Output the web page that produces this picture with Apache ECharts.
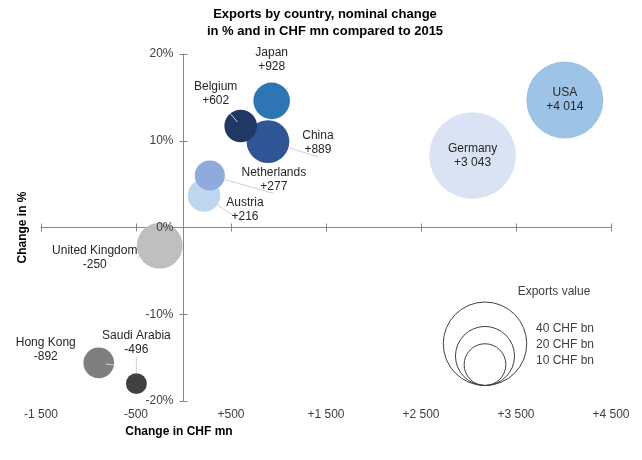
<!DOCTYPE html>
<html>
<head>
<meta charset="utf-8">
<script src="https://cdn.jsdelivr.net/npm/echarts@6/dist/echarts.min.js"></script>
<style>
html, body { margin: 0; padding: 0; background: #fff; }
#chart { width: 642px; height: 460px; }
</style>
</head>
<body>
<div id="chart"></div>
<script>
// data (drawing order: later items on top)
var countries  = ['USA', 'Germany', 'Japan', 'China', 'Belgium', 'Austria', 'Netherlands', 'United Kingdom', 'Hong Kong', 'Saudi Arabia'];
var changeChf  = [4014, 3043, 928, 889, 602, 216, 277, -250, -892, -496];
var changePct  = [14.7, 8.3, 14.6, 9.9, 11.7, 3.7, 6.0, -2.1, -15.6, -18.0];
var exportsBn  = [34.0, 43.1, 7.7, 10.5, 6.1, 6.1, 5.2, 12.1, 5.4, 2.5];
var legendBn   = [40, 20, 10];

// styles
var bubbleColors = {
    'USA': '#9dc3e6', 'Germany': '#dae3f3', 'Japan': '#2e75b6', 'China': '#2f5597',
    'Belgium': '#1f3864', 'Austria': '#bdd7ee', 'Netherlands': '#8faadc',
    'United Kingdom': '#bfbfbf', 'Hong Kong': '#7f7f7f', 'Saudi Arabia': '#404040'
};
// label offset from bubble centre, px
var labelOffsets = {
    'USA': [0, 0], 'Germany': [0, 0], 'Japan': [0, -41], 'China': [50, 1],
    'Belgium': [-25, -32], 'Austria': [41, 14], 'Netherlands': [64, 4],
    'United Kingdom': [-65, 12], 'Hong Kong': [-53, -13], 'Saudi Arabia': [0, -41]
};

var SIZE_K = 13.2; // diameter px per sqrt(CHF bn)
function bubbleSize(v) { return SIZE_K * Math.sqrt(v); }

function signed(v) {
    var s = Math.abs(v).toString().replace(/\B(?=(\d{3})+(?!\d))/g, ' ');
    return (v > 0 ? '+' : (v < 0 ? '-' : '')) + s;
}

var axisColor = '#868686';
var textColor = '#404040';
var font = 'Liberation Sans, Arial, sans-serif';

var gridLeft = 41, gridRight = 31;
var plotWidth = 642 - gridLeft - gridRight;

var chart = echarts.init(document.getElementById('chart'));

var seriesData = countries.map(function (c, i) {
    var inside = labelOffsets[c][0] === 0 && labelOffsets[c][1] === 0;
    return {
        name: c,
        value: [changeChf[i], changePct[i], exportsBn[i]],
        itemStyle: { color: bubbleColors[c], opacity: 1 },
        label: { offset: labelOffsets[c] },
        labelLine: { show: !inside }
    };
});

// legend circles, all sitting on one baseline
var legCx = 485, legBottom = 385.5;
var legendGraphics = legendBn.map(function (v) {
    var r = bubbleSize(v) / 2;
    return {
        type: 'circle',
        shape: { cx: legCx, cy: legBottom - r, r: r },
        style: { fill: 'none', stroke: '#404040', lineWidth: 1 },
        silent: true
    };
});
var legTextY = [329, 345, 361];
legendBn.forEach(function (v, i) {
    legendGraphics.push({
        type: 'text', x: 536, y: legTextY[i], silent: true,
        style: { text: v + ' CHF bn', fill: textColor, font: '12px ' + font, textAlign: 'left', textVerticalAlign: 'middle' }
    });
});
legendGraphics.push({
    type: 'text', x: 554, y: 292, silent: true,
    style: { text: 'Exports value', fill: textColor, font: '12px ' + font, textAlign: 'center', textVerticalAlign: 'middle' }
});

var xMin = -1500, xMax = 4500;
var xScale = { type: 'value', min: xMin, max: xMax, interval: 1000, splitLine: { show: false } };
var yScale = { type: 'value', min: -20, max: 20, interval: 10, splitLine: { show: false } };
// pixel shift of the x=0 line from the grid's left edge
var zeroShift = plotWidth * (0 - xMin) / (xMax - xMin);

var option = {
    backgroundColor: '#fff',
    animation: false,
    textStyle: { fontFamily: font },
    title: [{
        text: 'Exports by country, nominal change\nin % and in CHF mn compared to 2015',
        left: 325, top: 6, padding: 0, textAlign: 'center',
        textStyle: { fontSize: 13, fontWeight: 'bold', color: '#000', lineHeight: 17, fontFamily: font }
    }, {
        text: 'Change in CHF mn',
        left: 179, top: 426, padding: 0, textAlign: 'center',
        textStyle: { fontSize: 12, fontWeight: 'bold', color: '#000', fontFamily: font }
    }],
    grid: { left: gridLeft, right: gridRight, top: 54, bottom: 59, outerBoundsMode: 'none' },
    xAxis: [
        // data axis: line at y=0, ticks below
        Object.assign({}, xScale, {
            position: 'bottom',
            axisLine: { onZero: true, onZeroAxisIndex: 0, lineStyle: { color: axisColor } },
            axisTick: { show: true, length: 4, lineStyle: { color: axisColor } },
            axisLabel: { show: false }
        }),
        // ticks above the line
        Object.assign({}, xScale, {
            position: 'bottom',
            axisLine: { show: false, onZero: true, onZeroAxisIndex: 0 },
            axisTick: { show: true, inside: true, length: 4, lineStyle: { color: axisColor } },
            axisLabel: { show: false }
        }),
        // labels along the bottom
        Object.assign({}, xScale, {
            position: 'bottom',
            axisLine: { show: false, onZero: false },
            axisTick: { show: false },
            axisLabel: { margin: 8, color: textColor, fontSize: 12, fontFamily: font, formatter: signed }
        })
    ],
    yAxis: [
        Object.assign({}, yScale, {
            position: 'left',
            axisLine: { show: true, onZero: true, onZeroAxisIndex: 0, lineStyle: { color: axisColor } },
            axisTick: { show: true, length: 4, lineStyle: { color: axisColor } },
            axisLabel: { show: false }
        }),
        Object.assign({}, yScale, {
            position: 'left',
            axisLine: { show: false, onZero: true, onZeroAxisIndex: 0 },
            axisTick: { show: true, inside: true, length: 4, lineStyle: { color: axisColor } },
            axisLabel: { show: false }
        }),
        // labels next to the x=0 line, drawn above the bubbles
        Object.assign({}, yScale, {
            position: 'left',
            offset: -zeroShift,
            z: 10,
            axisLine: { show: false, onZero: false },
            axisTick: { show: false },
            axisLabel: { margin: 10, color: textColor, fontSize: 12, fontFamily: font, formatter: '{value}%' }
        }),
        Object.assign({}, yScale, {
            position: 'left',
            axisLine: { show: false, onZero: false },
            axisTick: { show: false },
            axisLabel: { show: false },
            name: 'Change in %',
            nameLocation: 'middle',
            nameGap: 12,
            nameTextStyle: { fontSize: 12, fontWeight: 'bold', color: '#000', fontFamily: font }
        })
    ],
    series: [{
        type: 'scatter',
        xAxisIndex: 0,
        yAxisIndex: 0,
        data: seriesData,
        symbolSize: function (d) { return bubbleSize(d[2]); },
        itemStyle: { opacity: 1 },
        emphasis: { disabled: true },
        label: {
            show: true,
            position: 'inside',
            color: '#262626',
            fontSize: 12,
            lineHeight: 14,
            fontFamily: font,
            formatter: function (p) { return p.name + '\n' + signed(p.value[0]); }
        },
        labelLine: { show: true, showAbove: true, lineStyle: { color: '#d0d0d0', width: 1 } }
    }],
    graphic: legendGraphics
};

chart.setOption(option);
</script>
</body>
</html>
